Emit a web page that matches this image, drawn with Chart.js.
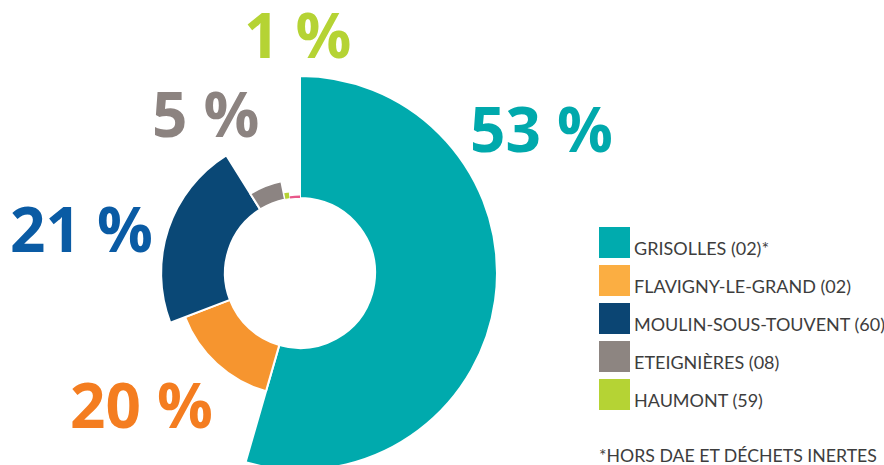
<!DOCTYPE html>
<html lang="fr">
<head>
<meta charset="utf-8">
<script src="https://cdn.jsdelivr.net/npm/chart.js@4.4.1/dist/chart.umd.min.js"></script>
<style>
  html, body { margin: 0; padding: 0; background: #fff; }
  body { width: 884px; height: 465px; overflow: hidden; position: relative; }
  #ring { position: absolute; left: 103px; top: 76px; width: 394px; height: 394px; }
  .pct {
    position: absolute;
    font-family: "Open Sans", sans-serif;
    font-weight: 700;
    font-size: 62px;
    line-height: 62px;
    white-space: nowrap;
  }
  #legend { position: absolute; left: 599px; top: 227px; margin: 0; padding: 0; list-style: none; }
  #legend li { display: flex; align-items: flex-end; height: 31px; margin-bottom: 7px; }
  #legend .sw { width: 31px; height: 31px; flex: none; }
  #legend .txt {
    font-family: Lato, sans-serif; font-size: 18px; line-height: 18px;
    color: #3d3d3d; margin-left: 4px; margin-bottom: 1px; white-space: nowrap;
  }
  #note {
    position: absolute; left: 599px; top: 447px;
    font-family: Lato, sans-serif; font-size: 17.7px; line-height: 17.7px; color: #3d3d3d;
    white-space: nowrap;
  }
</style>
</head>
<body>
<div id="ring"><canvas id="ringChart"></canvas></div>
<div id="labels"></div>
<ul id="legend"></ul>
<div id="note">*HORS DAE ET DÉCHETS INERTES</div>

<script>
// sites, in drawing order (clockwise from 12 o'clock)
const sites = ["GRISOLLES (02)*", "FLAVIGNY-LE-GRAND (02)", "MOULIN-SOUS-TOUVENT (60)", "ETEIGNIÈRES (08)", "HAUMONT (59)", ""];
// share of the circle as drawn in the picture
const shares = [54.4, 14.7, 21.9, 5.7, 1.1, 2.1];
// printed labels
const pctLabels = ["53 %", "20 %", "21 %", "5 %", "1 %"];

const sliceColors = ["#00aaad", "#f6952f", "#0a4876", "#8c8482", "#b5d334", "#e8588a"];
const swatchColors = ["#00abae", "#fbae42", "#0b4573", "#8d8581", "#b5d334"];
const labelColors = ["#00a9ac", "#f47d20", "#0a5ba4", "#8c8380", "#b5d334"];
// label boxes (left, top) in page pixels
const labelPos = [[470, 97], [70, 373], [10, 197], [152, 82], [244, 3]];

// outer radius of each ring piece, relative to the biggest one
const ringRatio = [1.0, 0.625, 0.705, 0.475, 0.415, 0.393];
const holeRatio = 0.381;

const ringWidths = {
  id: "ringWidths",
  afterDatasetsUpdate(chart) {
    const a = chart.chartArea;
    const cx = (a.left + a.right) / 2;
    const cy = (a.top + a.bottom) / 2;
    const R = Math.min(a.right - a.left, a.bottom - a.top) / 2;
    chart.getDatasetMeta(0).data.forEach((arc, i) => {
      arc.x = cx;
      arc.y = cy;
      arc.innerRadius = R * holeRatio;
      arc.outerRadius = R * ringRatio[i];
    });
  },
};

new Chart(document.getElementById("ringChart").getContext("2d"), {
  type: "doughnut",
  data: {
    labels: sites,
    datasets: [
      {
        data: shares,
        backgroundColor: sliceColors,
        borderColor: "#ffffff",
        borderWidth: [2, 2, 2, 2, 1, 0],
        hoverOffset: 0,
      },
    ],
  },
  options: {
    responsive: true,
    maintainAspectRatio: false,
    animation: false,
    events: [],
    cutout: "38%",
    layout: { padding: 0 },
    plugins: {
      legend: { display: false },
      tooltip: { enabled: false },
    },
  },
  plugins: [ringWidths],
});

// big percentage labels
const labelBox = document.getElementById("labels");
pctLabels.forEach((t, i) => {
  const d = document.createElement("div");
  d.className = "pct";
  d.textContent = t;
  d.style.color = labelColors[i];
  d.style.left = labelPos[i][0] + "px";
  d.style.top = labelPos[i][1] + "px";
  labelBox.appendChild(d);
});

// legend
const legend = document.getElementById("legend");
swatchColors.forEach((c, i) => {
  const li = document.createElement("li");
  li.innerHTML = '<span class="sw" style="background:' + c + '"></span><span class="txt"></span>';
  li.querySelector(".txt").textContent = sites[i];
  legend.appendChild(li);
});
</script>
</body>
</html>
